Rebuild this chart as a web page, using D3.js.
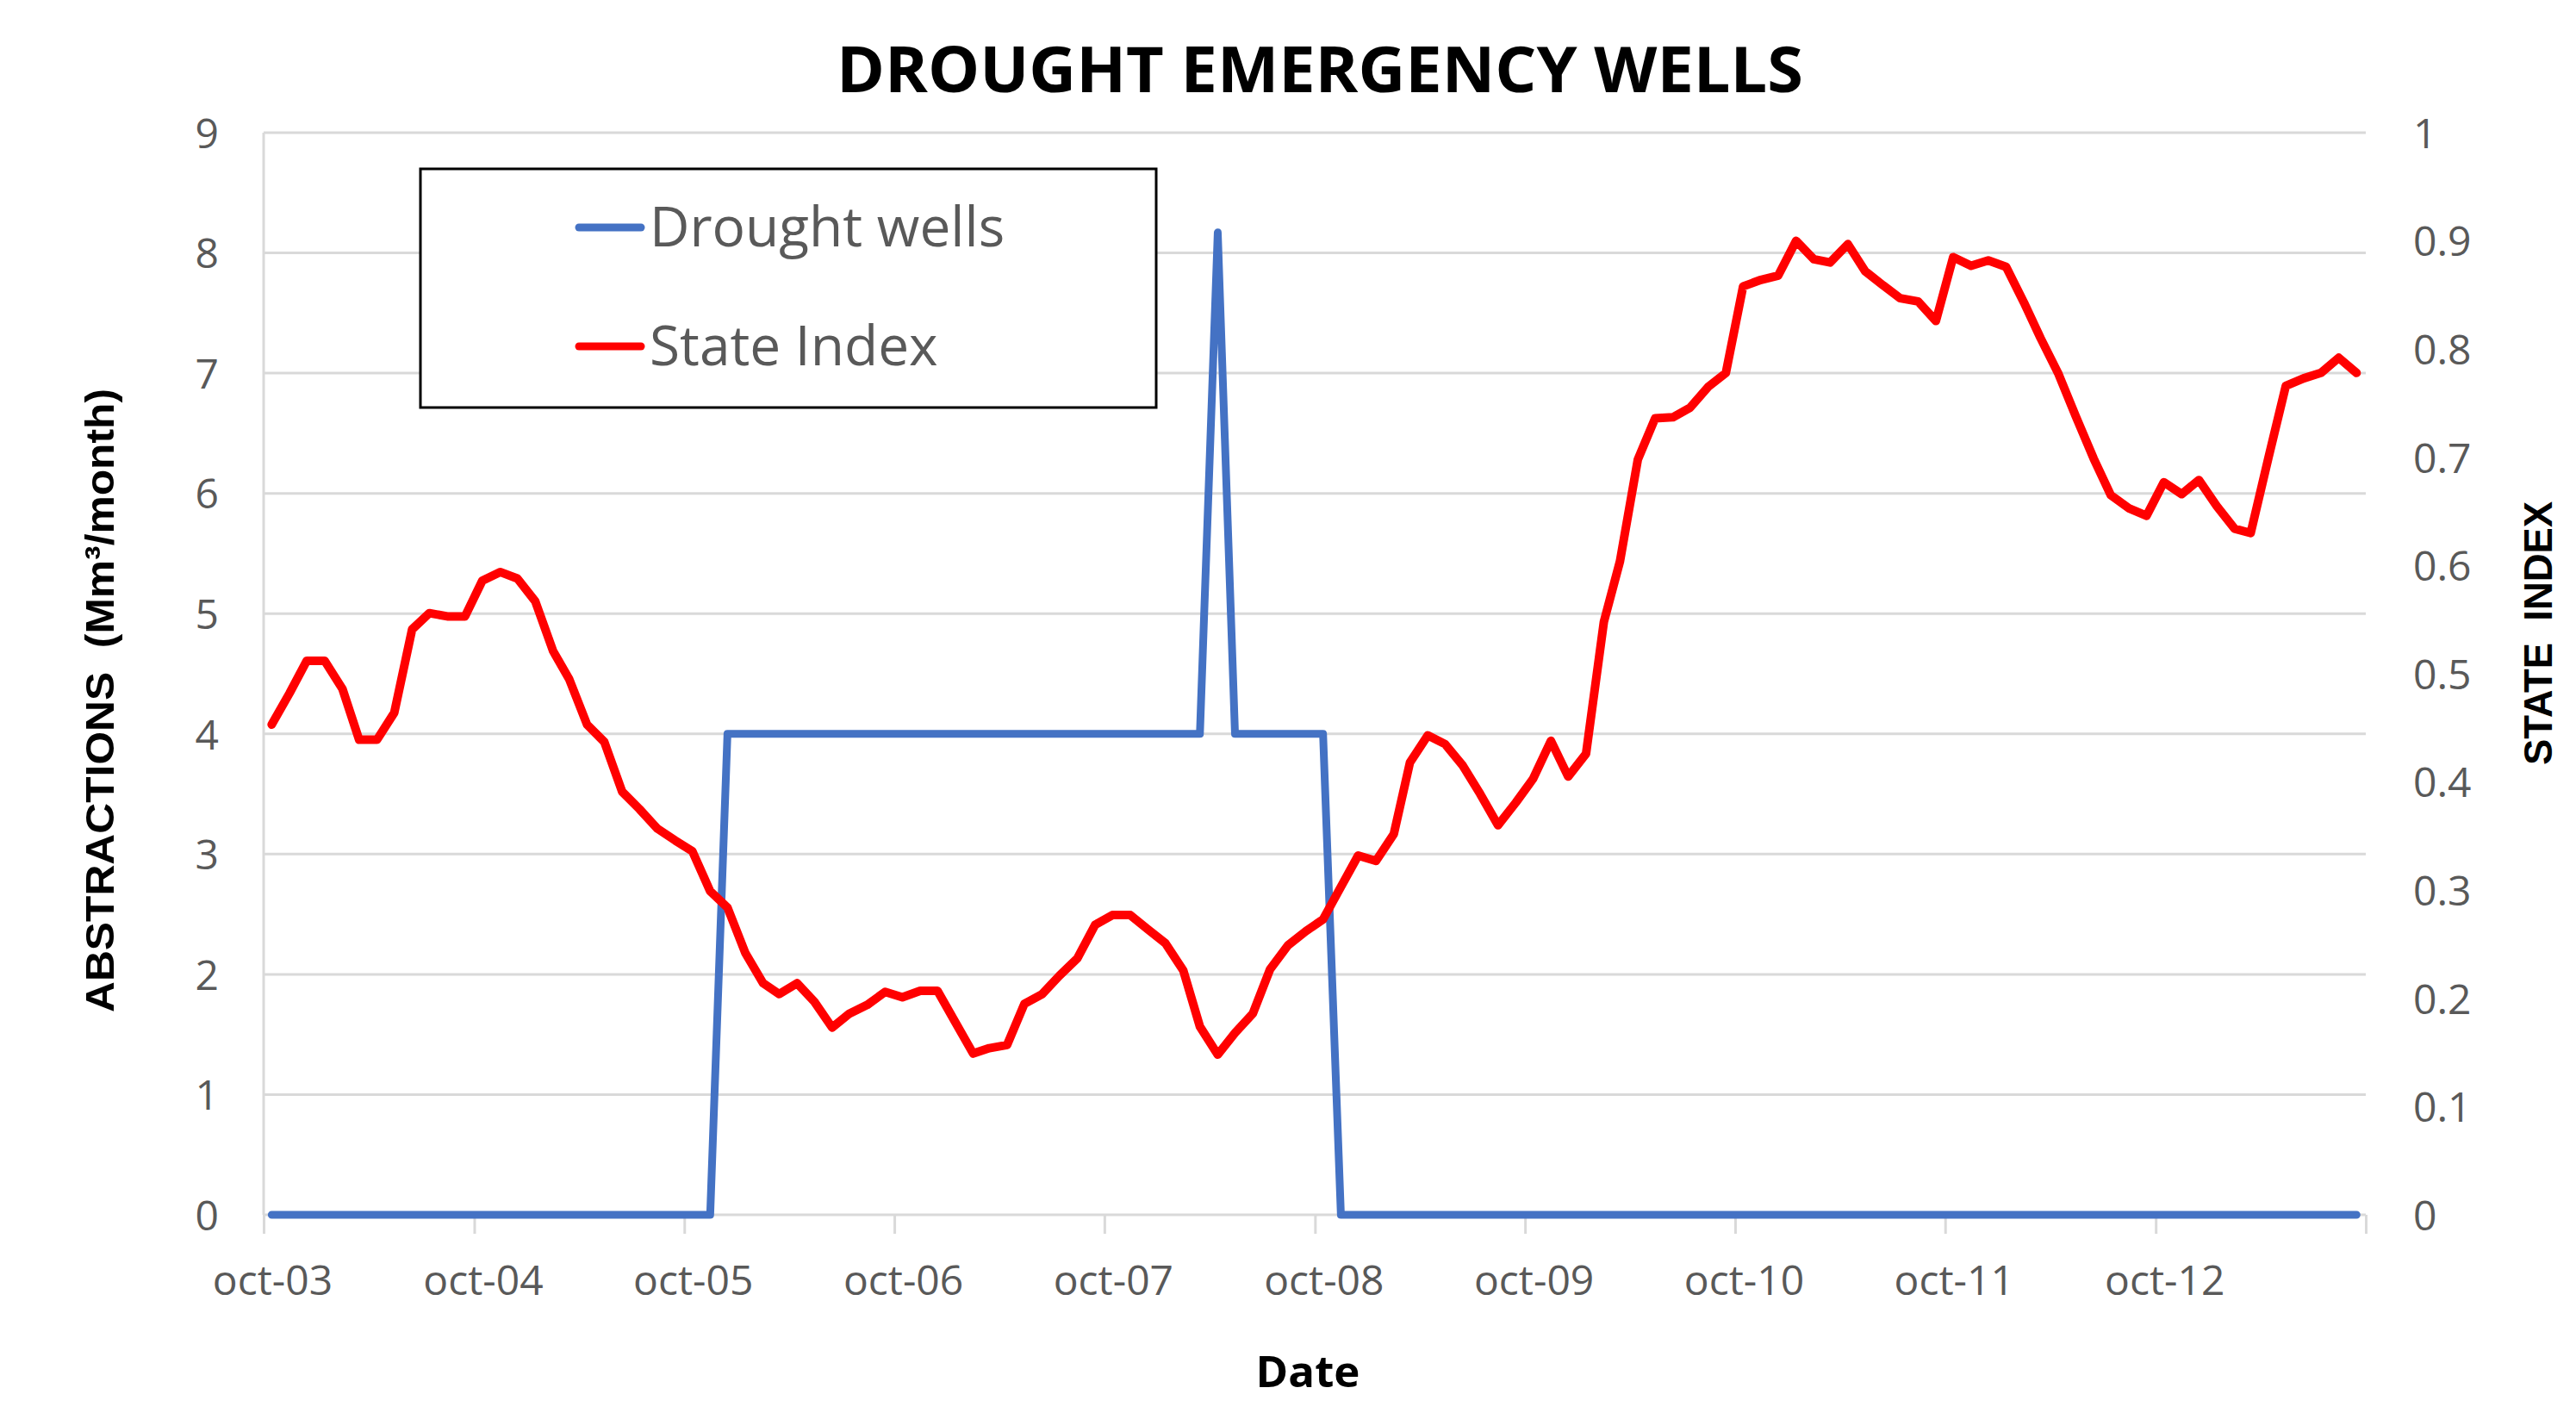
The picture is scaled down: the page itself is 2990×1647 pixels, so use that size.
<!DOCTYPE html>
<html>
<head>
<meta charset="utf-8">
<script src="https://cdn.jsdelivr.net/npm/d3@7"></script>
<style>
  html, body { margin: 0; padding: 0; background: #fff; }
  svg { display: block; }
</style>
</head>
<body>
<svg id="chart"></svg>
<script>
// 月度数据: oct-03 .. sep-13 (120 个月)
const stateIndex = [
    0.453, 0.482, 0.512, 0.512, 0.486, 0.439, 0.439, 0.464, 0.541, 0.556,
    0.553, 0.553, 0.586, 0.594, 0.588, 0.567, 0.521, 0.495, 0.453, 0.437,
    0.391, 0.375, 0.357, 0.346, 0.336, 0.299, 0.284, 0.242, 0.214, 0.204,
    0.214, 0.197, 0.173, 0.186, 0.194, 0.206, 0.201, 0.207, 0.207, 0.178,
    0.149, 0.154, 0.157, 0.195, 0.204, 0.221, 0.237, 0.268, 0.277, 0.277,
    0.264, 0.251, 0.226, 0.174, 0.148, 0.168, 0.186, 0.227, 0.249, 0.262,
    0.273, 0.303, 0.332, 0.327, 0.352, 0.418, 0.443, 0.435, 0.415, 0.389,
    0.360, 0.381, 0.403, 0.438, 0.405, 0.426, 0.548, 0.604, 0.698, 0.736,
    0.737, 0.746, 0.765, 0.778, 0.858, 0.864, 0.868, 0.900, 0.883, 0.880,
    0.897, 0.872, 0.859, 0.847, 0.844, 0.826, 0.885, 0.877, 0.882, 0.876,
    0.843, 0.810, 0.777, 0.738, 0.699, 0.665, 0.653, 0.646, 0.677, 0.666,
    0.679, 0.655, 0.634, 0.630, 0.700, 0.766, 0.773, 0.778, 0.792, 0.778
];

const droughtWells = [
    0, 0, 0, 0, 0, 0, 0, 0, 0, 0,
    0, 0, 0, 0, 0, 0, 0, 0, 0, 0,
    0, 0, 0, 0, 0, 0, 4, 4, 4, 4,
    4, 4, 4, 4, 4, 4, 4, 4, 4, 4,
    4, 4, 4, 4, 4, 4, 4, 4, 4, 4,
    4, 4, 4, 4, 8.17, 4, 4, 4, 4, 4,
    4, 0, 0, 0, 0, 0, 0, 0, 0, 0,
    0, 0, 0, 0, 0, 0, 0, 0, 0, 0,
    0, 0, 0, 0, 0, 0, 0, 0, 0, 0,
    0, 0, 0, 0, 0, 0, 0, 0, 0, 0,
    0, 0, 0, 0, 0, 0, 0, 0, 0, 0,
    0, 0, 0, 0, 0, 0, 0, 0, 0, 0
];

const xTickLabels = ["oct-03", "oct-04", "oct-05", "oct-06", "oct-07",
                     "oct-08", "oct-09", "oct-10", "oct-11", "oct-12"];
const leftTicks = [0, 1, 2, 3, 4, 5, 6, 7, 8, 9];
const rightTicks = [0, 0.1, 0.2, 0.3, 0.4, 0.5, 0.6, 0.7, 0.8, 0.9, 1];
const seriesNames = ["Drought wells", "State Index"];

// 画布尺寸
const width = 2990, height = 1647;
const margin = { top: 154, right: 244, bottom: 237, left: 306 };
const innerW = width - margin.left - margin.right;
const innerH = height - margin.top - margin.bottom;

const blue = "#4472C4", red = "#FF0000", grid = "#d9d9d9", tickText = "#595959";
const font = "'Open Sans', 'Liberation Sans', sans-serif";

// 每个月的数据点画在月中
const months = stateIndex.map((d, i) => new Date(2003, 9 + i, 15));
// 刻度: 每年十月一日, 最后一个只有刻度线
const xTickDates = xTickLabels.map((d, i) => new Date(2003 + i, 9, 1))
    .concat([new Date(2013, 9, 1)]);

const svg = d3.select("#chart")
    .attr("width", width)
    .attr("height", height)
    .attr("viewBox", `0 0 ${width} ${height}`);

svg.append("rect").attr("width", width).attr("height", height).attr("fill", "#fff");

const g = svg.append("g")
    .attr("transform", `translate(${margin.left},${margin.top})`);

// 比例尺
const x = d3.scaleTime()
    .domain([new Date(2003, 9, 1), new Date(2013, 9, 1)])
    .range([0, innerW]);
const yLeft = d3.scaleLinear().domain([0, 9]).range([innerH, 0]);
const yRight = d3.scaleLinear().domain([0, 1]).range([innerH, 0]);

// 网格线
g.append("g")
    .selectAll("line")
    .data(leftTicks)
    .join("line")
    .attr("x1", 0)
    .attr("x2", innerW)
    .attr("y1", d => yLeft(d))
    .attr("y2", d => yLeft(d))
    .attr("stroke", grid)
    .attr("stroke-width", 3);

// 左侧竖轴线
g.append("line")
    .attr("x1", 0).attr("x2", 0)
    .attr("y1", 0).attr("y2", innerH)
    .attr("stroke", grid)
    .attr("stroke-width", 3);

// X 轴
const xAxis = g.append("g")
    .attr("transform", `translate(0,${innerH})`)
    .call(d3.axisBottom(x)
        .tickValues(xTickDates)
        .tickSize(22)
        .tickFormat((d, i) => xTickLabels[i] || ""));
xAxis.select(".domain").remove();
xAxis.selectAll(".tick line").attr("stroke", grid).attr("stroke-width", 3);
xAxis.selectAll(".tick text")
    .attr("y", 93)
    .attr("dy", 0)
    .attr("dx", 10)
    .attr("fill", tickText)
    .style("font-family", font)
    .style("font-size", "48px");

// 左 Y 轴
const leftAxis = g.append("g")
    .call(d3.axisLeft(yLeft).tickValues(leftTicks).tickSize(0).tickPadding(52));
leftAxis.select(".domain").remove();
leftAxis.selectAll(".tick text")
    .attr("dy", "0.36em")
    .attr("fill", tickText)
    .style("font-family", font)
    .style("font-size", "48px");

// 右 Y 轴
const rightAxis = g.append("g")
    .attr("transform", `translate(${innerW},0)`)
    .call(d3.axisRight(yRight)
        .tickValues(rightTicks)
        .tickSize(0)
        .tickPadding(55)
        .tickFormat(d => String(+d.toFixed(1))));
rightAxis.select(".domain").remove();
rightAxis.selectAll(".tick text")
    .attr("dy", "0.36em")
    .attr("fill", tickText)
    .style("font-family", font)
    .style("font-size", "48px");

// 折线
const wellsLine = d3.line()
    .x((d, i) => x(months[i]))
    .y(d => yLeft(d));
const indexLine = d3.line()
    .x((d, i) => x(months[i]))
    .y(d => yRight(d));

g.append("path")
    .datum(droughtWells)
    .attr("d", wellsLine)
    .attr("fill", "none")
    .attr("stroke", blue)
    .attr("stroke-width", 9)
    .attr("stroke-linejoin", "round")
    .attr("stroke-linecap", "round");

g.append("path")
    .datum(stateIndex)
    .attr("d", indexLine)
    .attr("fill", "none")
    .attr("stroke", red)
    .attr("stroke-width", 10)
    .attr("stroke-linejoin", "round")
    .attr("stroke-linecap", "round");

// 标题
svg.append("text")
    .attr("x", 1532)
    .attr("y", 107)
    .attr("text-anchor", "middle")
    .attr("textLength", 1122)
    .attr("lengthAdjust", "spacingAndGlyphs")
    .style("font-family", font)
    .style("font-weight", "bold")
    .style("font-size", "73px")
    .attr("fill", "#000")
    .text("DROUGHT EMERGENCY WELLS");

// 坐标轴标题
svg.append("text")
    .attr("transform", "translate(132,813) rotate(-90)")
    .attr("text-anchor", "middle")
    .attr("textLength", 724)
    .attr("lengthAdjust", "spacingAndGlyphs")
    .attr("xml:space", "preserve")
    .style("white-space", "pre")
    .style("font-family", "'Liberation Sans', Arial, sans-serif")
    .style("font-weight", "bold")
    .style("font-size", "47px")
    .attr("fill", "#000")
    .text("ABSTRACTIONS  (Mm³/month)");

svg.append("text")
    .attr("transform", "translate(2962,735) rotate(-90)")
    .attr("text-anchor", "middle")
    .attr("textLength", 306)
    .attr("lengthAdjust", "spacingAndGlyphs")
    .style("white-space", "pre")
    .style("font-family", "'Liberation Sans', Arial, sans-serif")
    .style("font-weight", "bold")
    .style("font-size", "47px")
    .attr("fill", "#000")
    .text("STATE  INDEX");

svg.append("text")
    .attr("x", 1518)
    .attr("y", 1610)
    .attr("text-anchor", "middle")
    .style("font-family", font)
    .style("font-weight", "bold")
    .style("font-size", "51px")
    .attr("fill", "#000")
    .text("Date");

// 图例
const legend = svg.append("g");
legend.append("rect")
    .attr("x", 488).attr("y", 196)
    .attr("width", 854).attr("height", 277)
    .attr("fill", "#fff")
    .attr("stroke", "#000")
    .attr("stroke-width", 3);

const legendRows = legend.selectAll(".row")
    .data(seriesNames)
    .join("g")
    .attr("class", "row")
    .attr("transform", (d, i) => `translate(0,${i === 0 ? 264 : 402})`);

legendRows.append("line")
    .attr("x1", 672).attr("x2", 744)
    .attr("y1", 0).attr("y2", 0)
    .attr("stroke", (d, i) => i === 0 ? blue : red)
    .attr("stroke-width", 9)
    .attr("stroke-linecap", "round");

legendRows.append("text")
    .attr("x", 754)
    .attr("y", 0)
    .attr("dy", "0.34em")
    .attr("fill", tickText)
    .style("font-family", font)
    .style("font-size", "64px")
    .text(d => d);
</script>
</body>
</html>
